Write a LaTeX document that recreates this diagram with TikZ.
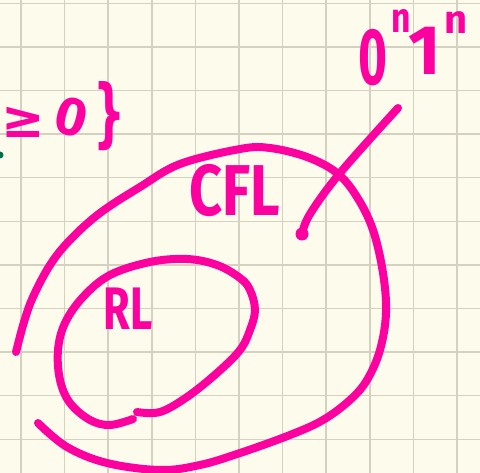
\documentclass[tikz,border=0pt]{standalone}
\usepackage{fontspec}
\setmainfont{Fira Sans}
\newfontfamily\symfont{DejaVu Sans}
\definecolor{paper}{RGB}{253,251,236}
\definecolor{gridc}{RGB}{212,209,192}
\definecolor{ink}{RGB}{252,0,160}
\definecolor{inkgreen}{RGB}{0,110,80}
\tikzset{
  pen/.style={draw=ink, line width=8pt, line cap=round, line join=round},
  gridline/.style={draw=gridc, line width=1.5pt},
  hand/.style={text=ink, inner sep=0pt, outer sep=0pt},
}
\begin{document}
\begin{tikzpicture}[x=1pt,y=-1pt]
\useasboundingbox (0,0) rectangle (480,473);
\clip (0,0) rectangle (480,473);
\fill[paper] (0,0) rectangle (480,473);
\foreach \i in {0,...,10} {
  \draw[gridline] ({21+43.6*\i},0) -- ({21+43.6*\i},473);
  \draw[gridline] (0,{3.3+43.6*\i}) -- (480,{3.3+43.6*\i});
}
% outer curve (CFL)
\draw[pen] plot[smooth, tension=0.6] coordinates {(16,352) (24,322) (33,297) (50,265) (70,240) (100,213) (140,187) (180,164) (240,149) (270,148) (307,157) (337,173) (357,197) (373,230) (383,273) (386,313) (380,350) (367,380) (350,400) (323,420) (290,435) (240,453) (200,465) (160,470) (107,463) (67,447) (38,423)};
% inner curve (RL)
\draw[pen] plot[smooth, tension=0.6] coordinates {(137,412) (160,412) (187,397) (217,373) (240,350) (250,330) (255,310) (250,290) (240,278) (217,265) (187,259) (150,262) (110,275) (83,297) (65,323) (58,350) (60,380) (70,403) (90,420) (110,425) (133,419)};
% pointer
\coordinate (ptrtop) at (398,108);
\coordinate (ptrdot) at (302,234);
\draw[pen] plot[smooth, tension=0.6] coordinates {(398,108) (340,173) (310,214) (302,234)};
\fill[ink] (ptrdot) circle (6.5pt);
% green dot at left edge
\fill[inkgreen] (0,155) circle (3.5pt);
% texts
\node[hand, font=\bfseries\fontsize{72}{72}\selectfont, xscale=0.8] (cfl) at (235,191) {CFL};
\node[hand, font=\bfseries\fontsize{60}{60}\selectfont, xscale=0.72] (rl) at (128,309) {RL};
\node[hand, font=\bfseries\fontsize{80}{80}\selectfont, xscale=0.62] (zero) at (373,58) {0};
\node[hand, font=\bfseries\fontsize{42}{42}\selectfont, xscale=0.8] (na) at (401,21) {n};
\node[hand, font=\bfseries\fontsize{70}{70}\selectfont] (one) at (425,51) {1};
\node[hand, font=\bfseries\fontsize{40}{40}\selectfont] (nb) at (456,23) {n};
\node[hand, font=\symfont\bfseries\fontsize{52}{52}\selectfont] (geq) at (23,122) {≥};
\node[hand, font=\bfseries\fontsize{54}{54}\selectfont, rotate=-15] (lzero) at (71,117) {0};
\node[hand, font=\symfont\bfseries\fontsize{75}{75}\selectfont, xscale=0.6] (brace) at (110,116) {\}};
\end{tikzpicture}
\end{document}
